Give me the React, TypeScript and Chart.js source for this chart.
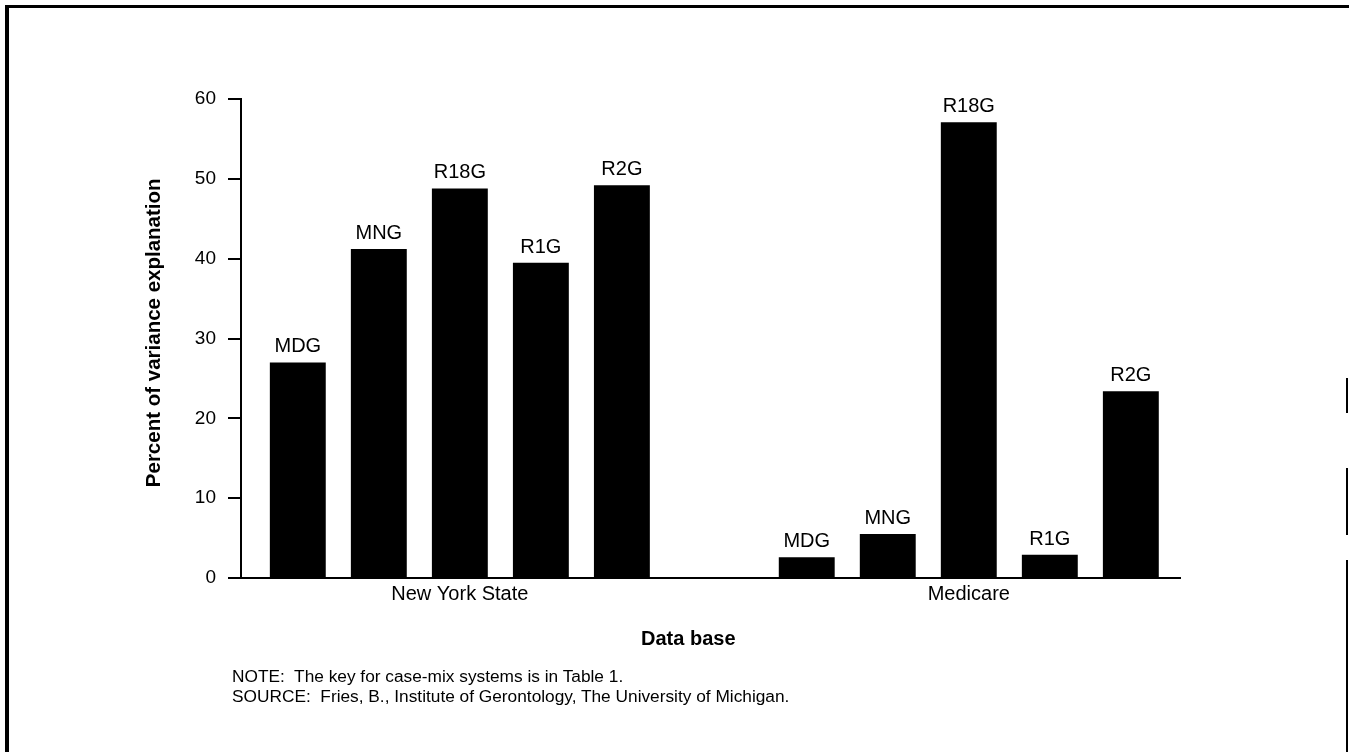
import React, { useEffect, useRef } from "react";
import { Chart, registerables } from "chart.js";

Chart.register(...registerables);

// ---- data ----
const GROUPS = ["New York State", "Medicare"];
const SYSTEMS = ["MDG", "MNG", "R18G", "R1G", "R2G"];
const NEW_YORK_STATE = [27.0, 41.2, 48.8, 39.5, 49.2];
const MEDICARE = [2.6, 5.5, 57.1, 2.9, 23.4];
const Y_MIN = 0;
const Y_MAX = 60;
const Y_STEP = 10;
const Y_TITLE = "Percent of variance explanation";
const X_TITLE = "Data base";
const NOTE = "NOTE:\u00a0 The key for case-mix systems is in Table 1.";
const SOURCE = "SOURCE:\u00a0 Fries, B., Institute of Gerontology, The University of Michigan.";

const FONT = "'Liberation Sans', Arial, Helvetica, sans-serif";
const NBSP = "\u00a0";

const barLabels = {
  id: "barLabels",
  afterDatasetsDraw(chart: any) {
    const ctx = chart.ctx;
    ctx.save();
    ctx.font = `20px ${FONT}`;
    ctx.fillStyle = "#000";
    ctx.textAlign = "center";
    ctx.textBaseline = "alphabetic";
    chart.data.datasets.forEach((ds: any, di: number) => {
      chart.getDatasetMeta(di).data.forEach((el: any) => {
        ctx.fillText(ds.label, el.x, el.y - 10);
      });
    });
    ctx.restore();
  },
};

export default function App() {
  const ref = useRef<HTMLCanvasElement | null>(null);

  useEffect(() => {
    document.body.style.margin = "0";
    const canvas = ref.current;
    if (!canvas) return;
    const datasets = SYSTEMS.map((sys, i) => ({
      label: sys,
      data: [
        { x: 0, y: NEW_YORK_STATE[i] },
        { x: 1, y: MEDICARE[i] },
      ],
      backgroundColor: "#000",
      borderWidth: 0,
      categoryPercentage: 0.796,
      barPercentage: 0.69,
    }));
    const chart = new Chart(canvas, {
      type: "bar",
      data: { datasets },
      plugins: [barLabels],
      options: {
        animation: false,
        responsive: true,
        maintainAspectRatio: false,
        layout: { padding: { left: 140, right: 169, top: 99, bottom: 94 } },
        plugins: { legend: { display: false }, tooltip: { enabled: false } },
        scales: {
          x: {
            type: "linear",
            offset: false,
            min: -0.43,
            max: 1.415,
            afterBuildTicks: (scale: any) => {
              scale.ticks = GROUPS.map((_, i) => ({ value: i }));
            },
            afterFit: (scale: any) => {
              scale.height = 80;
            },
            grid: { display: false, drawTicks: false },
            border: { display: true, color: "#000", width: 2 },
            ticks: {
              padding: 4,
              color: "#000",
              font: { family: FONT, size: 20 },
              maxRotation: 0,
              autoSkip: false,
              callback: (v: any) => GROUPS[v] ?? "",
            },
            title: {
              display: true,
              text: X_TITLE + NBSP.repeat(8),
              color: "#000",
              font: { family: FONT, size: 20, weight: "bold" },
              padding: { top: 0, bottom: 7 },
            },
          },
          y: {
            min: Y_MIN,
            max: Y_MAX,
            afterFit: (scale: any) => {
              scale.width = 101;
            },
            grid: {
              display: true,
              drawOnChartArea: false,
              drawTicks: true,
              tickLength: 13,
              color: "#000",
              lineWidth: 2,
            },
            border: { display: true, color: "#000", width: 2 },
            ticks: {
              stepSize: Y_STEP,
              padding: 12,
              color: "#000",
              font: { family: FONT, size: 19 },
            },
            title: {
              display: true,
              text: NBSP.repeat(2) + Y_TITLE,
              color: "#000",
              font: { family: FONT, size: 20.5, weight: "bold" },
              padding: { top: 2, bottom: 0 },
            },
          },
        },
      },
    });
    return () => chart.destroy();
  }, []);

  const line = (s: React.CSSProperties): React.CSSProperties => ({
    position: "absolute",
    background: "#000",
    ...s,
  });

  const noteStyle: React.CSSProperties = {
    position: "absolute",
    left: 232,
    fontFamily: FONT,
    fontSize: 17.3,
    lineHeight: "20px",
    color: "#000",
    whiteSpace: "nowrap",
  };

  return (
    <div style={{ position: "relative", width: 1349, height: 752, background: "#fff", overflow: "hidden" }}>
      <canvas ref={ref} style={{ position: "absolute", left: 0, top: 0, width: 1349, height: 752 }} />
      <div style={line({ left: 5, top: 5, width: 1344, height: 3 })} />
      <div style={line({ left: 5, top: 5, width: 4, height: 747 })} />
      <div style={line({ left: 1346, top: 378, width: 2, height: 35 })} />
      <div style={line({ left: 1346, top: 468, width: 2, height: 67 })} />
      <div style={line({ left: 1346, top: 560, width: 2, height: 192 })} />
      <div style={{ ...noteStyle, top: 666 }}>{NOTE}</div>
      <div style={{ ...noteStyle, top: 686 }}>{SOURCE}</div>
    </div>
  );
}
